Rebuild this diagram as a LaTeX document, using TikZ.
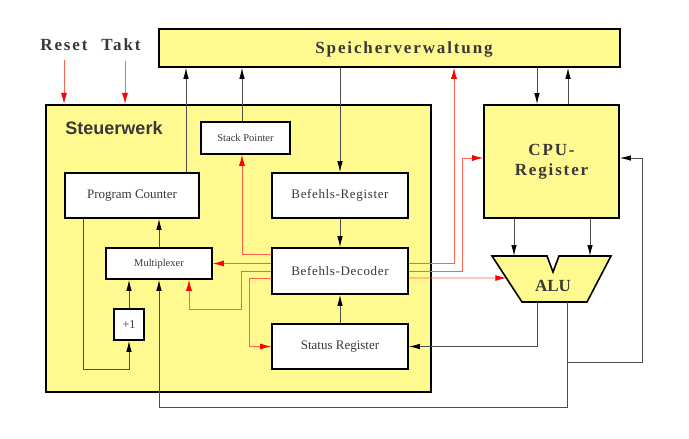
\documentclass[tikz,border=0pt]{standalone}
\usepackage{fontspec}
\setmainfont{Liberation Serif}
\setsansfont{Liberation Sans}
\newfontfamily\spaced[LetterSpace=11]{Liberation Serif}
\newfontfamily\lspaced[LetterSpace=5]{Liberation Serif}
\usetikzlibrary{calc}
\usetikzlibrary{arrows.meta}
\definecolor{gelb}{HTML}{FFFA90}
\definecolor{schrift}{HTML}{383838}
\definecolor{rot}{HTML}{FF6050}
\tikzset{
  block/.style={draw, line width=1.6pt, fill=white, text=schrift, inner sep=2pt, font=\fontsize{13}{15}\selectfont},
  unit/.style={draw, line width=1.6pt, fill=gelb, text=schrift},
  title/.style={text=schrift, font=\spaced\bfseries\fontsize{17}{20}\selectfont},
  conn/.style={draw=black!70, line width=0.9pt, -{Latex[length=11pt,width=5.5pt,color=black]}},
  ctrl/.style={draw=rot, line width=0.9pt, -{Latex[length=11pt,width=6pt,color=red]}},
}

\begin{document}
\begin{tikzpicture}[x=1pt,y=-1pt]
            \useasboundingbox (0,0) rectangle (689,439);

            % Draw the units
            \node[unit, line width=2.2pt, minimum width=385pt, minimum height=287pt] (steuer) at (238.5,248.5) {};
            \node[text=schrift, font=\sffamily\bfseries\fontsize{18}{20}\selectfont] (steuertext) at (114,128) {Steuerwerk};

            \node[unit, minimum width=461pt, minimum height=38pt] (speicher) at (389.5,48) {};
            \node[title] (speichertext) at (404,49) {Speicherverwaltung};

            \node[unit, minimum width=135pt, minimum height=113pt, align=center, font=\spaced\bfseries\fontsize{17}{20}\selectfont] (cpu) at (551.5,161.5) {CPU-\\Register};

            \node[title] (reset) at (64,45) {Reset};
            \node[title] (takt) at (121,45) {Takt};

            % Draw the blocks of the Steuerwerk
            \node[block, minimum width=89pt, minimum height=32pt, font=\fontsize{10.5}{12}\selectfont] (sp) at (245.5,138) {Stack Pointer};
            \node[block, minimum width=134pt, minimum height=45pt] (pc) at (132,195.5) {Program Counter};
            \node[block, minimum width=136pt, minimum height=45pt, font=\lspaced\fontsize{13}{15}\selectfont] (breg) at (340,195.5) {Befehls-Register};
            \node[block, minimum width=106pt, minimum height=31pt, font=\fontsize{10.5}{12}\selectfont] (mux) at (159,263.5) {Multiplexer};
            \node[block, minimum width=136pt, minimum height=46pt, font=\lspaced\fontsize{13}{15}\selectfont] (dec) at (340,271) {Befehls-Decoder};
            \node[block, minimum width=30pt, minimum height=31pt, inner sep=0pt, font=\fontsize{12}{14}\selectfont] (inc) at (129,324.5) {+1};
            \node[block, minimum width=136pt, minimum height=45pt] (sreg) at (340,346.5) {Status Register};

            % Draw the ALU
            \draw[line width=1.6pt, fill=gelb] (492,256) coordinate (alu-tl) -- (547,256) -- (553,272) -- (559,256)
                -- (611,256) coordinate (alu-tr) -- (587,302) coordinate (alu-br) -- (522,302) coordinate (alu-bl) -- cycle;
            \node[text=schrift, font=\bfseries\fontsize{17}{18}\selectfont] (alu) at (553,286) {ALU};

            % Data and address paths
            \draw[conn] (pc.north -| 186,0) -- (speicher.south -| 186,0);
            \draw[conn] (sp.north -| 242,0) -- (speicher.south -| 242,0);
            \draw[conn] (speicher.south -| breg.north) -- (breg.north);
            \draw[conn] (breg.south) -- (dec.north);
            \draw[conn] (sreg.north) -- (dec.south);
            \draw[conn] (mux.north) -- (mux.north |- pc.south);
            \draw[conn] (inc.north) -- (inc.north |- mux.south);
            \draw[conn] (pc.south -| 83,0) -- (83,369) -| (inc.south);

            \draw[conn] (speicher.south -| 537,0) -- (cpu.north -| 537,0);
            \draw[conn] (cpu.north -| 568,0) -- (speicher.south -| 568,0);
            \draw[conn] (cpu.south -| 514,0) -- (alu-tl -| 514,0);
            \draw[conn] (cpu.south -| 590,0) -- (alu-tl -| 590,0);
            \draw[conn] (alu-bl -| 537,0) |- (sreg.east);
            \draw[conn] (alu-bl -| 567,0) |- (159,407) -- (mux.south);
            \draw[conn] (567,362) -| (642,158) -- ([yshift=3.5pt]cpu.east);

            % Control lines
            \draw[ctrl] ([yshift=-6pt]reset.south) -- (reset.south |- steuer.north);
            \draw[ctrl] ([xshift=4pt,yshift=-6pt]takt.south) -- ([xshift=4pt]takt.south |- steuer.north);

            \draw[ctrl] ($(dec.west)+(0,-17)$) -| ([xshift=-3.5pt]sp.south);
            \draw[ctrl] (dec.west |- mux.east) -- (mux.east);
            \draw[ctrl] (dec.west) -- ++(-30,0) |- ($(mux.south)+(30,30)$) -- ($(mux.south)+(30,0)$);
            \draw[ctrl] ($(dec.west)+(0,7)$) -- ++(-22,0) |- (sreg.west);

            \draw[ctrl] ($(dec.east)+(0,-8)$) -| (speicher.south -| 454,0);
            \draw[ctrl] (dec.east) -- ++(54,0) |- ([yshift=3.5pt]cpu.west);
            \draw[ctrl] ($(dec.east)+(0,7)$) -- ($(alu-tl)!0.478!(alu-bl)$);

        \end{tikzpicture}
\end{document}
